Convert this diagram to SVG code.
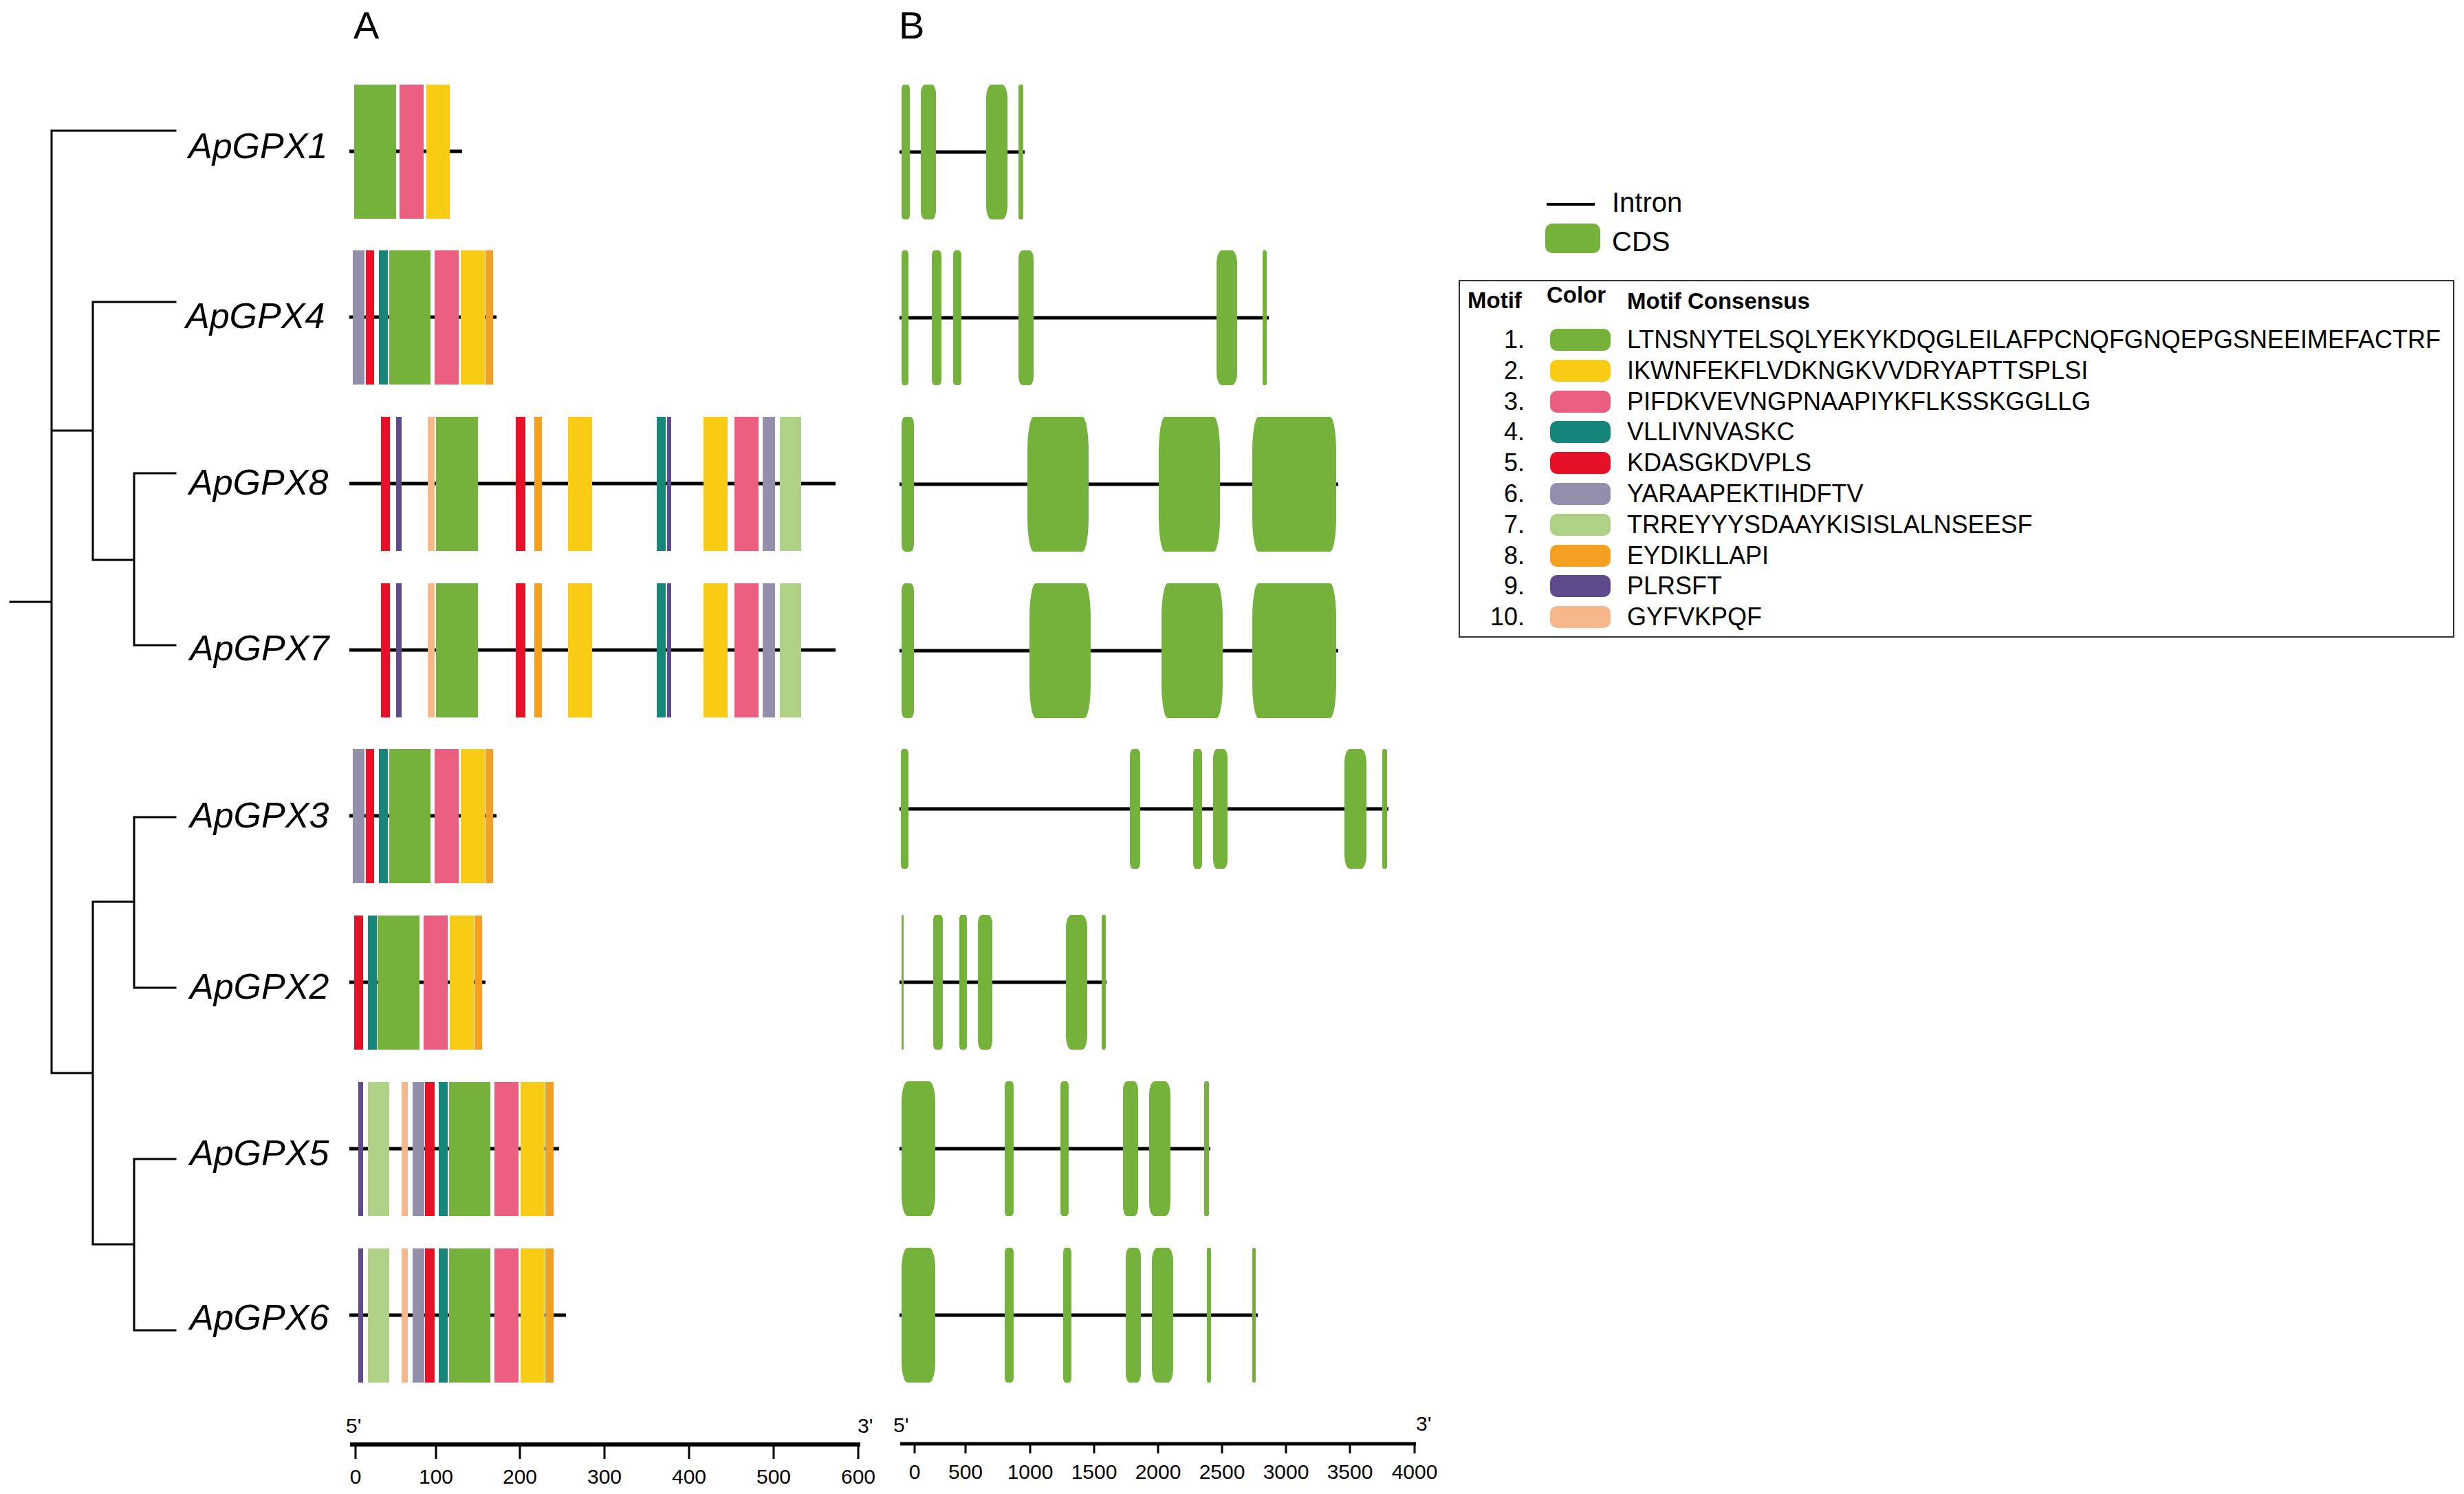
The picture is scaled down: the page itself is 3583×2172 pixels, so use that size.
<svg xmlns="http://www.w3.org/2000/svg" width="3583" height="2172" viewBox="0 0 3583 2172">
<style>
text{font-family:"Liberation Sans",Arial,sans-serif;fill:#000}
.gl{font-size:52px;font-style:italic}
.pl{font-size:56px}
.ax{font-size:30px;text-anchor:middle}
.pr{font-size:30px}
.tr{stroke:#000;stroke-width:3;fill:none;stroke-linecap:square}
.gn{stroke:#000;stroke-width:5}
.m1{fill:#74B23B}.m2{fill:#F8CB14}.m3{fill:#EC5E80}.m4{fill:#16857A}.m5{fill:#E61126}
.m6{fill:#928EAB}.m7{fill:#AFD185}.m8{fill:#F39F21}.m9{fill:#5F4A8B}.m10{fill:#F6B88A}
.ex{fill:#74B23B}
.lg{font-size:36px}
.hd{font-size:33px;font-weight:bold}
.num{font-size:36px;text-anchor:end}
</style>
<rect width="3583" height="2172" fill="#fff"/>
<text class="pl" x="514" y="56">A</text>
<text class="pl" x="1307" y="56">B</text>
<g id="tree">
<path class="tr" d="M15 875H75M75 190V1560M75 190H255M75 626H135M135 439V814M135 439H255M135 814H195M195 688V938M195 688H255M195 938H255M75 1560H135M135 1311V1809M135 1311H195M195 1188V1436M195 1188H255M195 1436H255M135 1809H195M195 1685V1934M195 1685H255M195 1934H255"/>
</g>
<g id="labels">
<text class="gl" x="274" y="230">ApGPX1</text>
<text class="gl" x="270" y="477">ApGPX4</text>
<text class="gl" x="275" y="719">ApGPX8</text>
<text class="gl" x="276" y="960">ApGPX7</text>
<text class="gl" x="276" y="1203">ApGPX3</text>
<text class="gl" x="276" y="1452">ApGPX2</text>
<text class="gl" x="276" y="1694">ApGPX5</text>
<text class="gl" x="276" y="1933">ApGPX6</text>
</g>
<g id="motifs-ApGPX1">
<line class="gn" x1="508" y1="220" x2="672" y2="220"/>
<rect class="m1" x="515" y="123" width="61" height="195"/>
<rect class="m3" x="581" y="123" width="35" height="195"/>
<rect class="m2" x="620" y="123" width="34" height="195"/>
</g>
<g id="motifs-ApGPX4">
<line class="gn" x1="508" y1="461" x2="722" y2="461"/>
<rect class="m6" x="513" y="364" width="17" height="195"/>
<rect class="m5" x="532" y="364" width="12" height="195"/>
<rect class="m4" x="551" y="364" width="13" height="195"/>
<rect class="m1" x="566" y="364" width="60" height="195"/>
<rect class="m3" x="632" y="364" width="35" height="195"/>
<rect class="m2" x="670" y="364" width="35" height="195"/>
<rect class="m8" x="706" y="364" width="11" height="195"/>
</g>
<g id="motifs-ApGPX8">
<line class="gn" x1="508" y1="703" x2="1215" y2="703"/>
<rect class="m5" x="554" y="606" width="13" height="195"/>
<rect class="m9" x="576" y="606" width="8" height="195"/>
<rect class="m10" x="622" y="606" width="10" height="195"/>
<rect class="m1" x="634" y="606" width="61" height="195"/>
<rect class="m5" x="750" y="606" width="14" height="195"/>
<rect class="m8" x="777" y="606" width="11" height="195"/>
<rect class="m2" x="826" y="606" width="35" height="195"/>
<rect class="m4" x="955" y="606" width="13" height="195"/>
<rect class="m9" x="970" y="606" width="6" height="195"/>
<rect class="m2" x="1023" y="606" width="35" height="195"/>
<rect class="m3" x="1068" y="606" width="35" height="195"/>
<rect class="m6" x="1109" y="606" width="18" height="195"/>
<rect class="m7" x="1134" y="606" width="31" height="195"/>
</g>
<g id="motifs-ApGPX7">
<line class="gn" x1="508" y1="945" x2="1215" y2="945"/>
<rect class="m5" x="554" y="848" width="13" height="195"/>
<rect class="m9" x="576" y="848" width="8" height="195"/>
<rect class="m10" x="622" y="848" width="10" height="195"/>
<rect class="m1" x="634" y="848" width="61" height="195"/>
<rect class="m5" x="750" y="848" width="14" height="195"/>
<rect class="m8" x="777" y="848" width="11" height="195"/>
<rect class="m2" x="826" y="848" width="35" height="195"/>
<rect class="m4" x="955" y="848" width="13" height="195"/>
<rect class="m9" x="970" y="848" width="6" height="195"/>
<rect class="m2" x="1023" y="848" width="35" height="195"/>
<rect class="m3" x="1068" y="848" width="35" height="195"/>
<rect class="m6" x="1109" y="848" width="18" height="195"/>
<rect class="m7" x="1134" y="848" width="31" height="195"/>
</g>
<g id="motifs-ApGPX3">
<line class="gn" x1="508" y1="1186" x2="722" y2="1186"/>
<rect class="m6" x="513" y="1089" width="17" height="195"/>
<rect class="m5" x="532" y="1089" width="12" height="195"/>
<rect class="m4" x="551" y="1089" width="13" height="195"/>
<rect class="m1" x="566" y="1089" width="60" height="195"/>
<rect class="m3" x="632" y="1089" width="35" height="195"/>
<rect class="m2" x="670" y="1089" width="35" height="195"/>
<rect class="m8" x="706" y="1089" width="11" height="195"/>
</g>
<g id="motifs-ApGPX2">
<line class="gn" x1="508" y1="1428" x2="706" y2="1428"/>
<rect class="m5" x="515" y="1331" width="13" height="195"/>
<rect class="m4" x="535" y="1331" width="13" height="195"/>
<rect class="m1" x="549" y="1331" width="61" height="195"/>
<rect class="m3" x="616" y="1331" width="35" height="195"/>
<rect class="m2" x="654" y="1331" width="35" height="195"/>
<rect class="m8" x="690" y="1331" width="11" height="195"/>
</g>
<g id="motifs-ApGPX5">
<line class="gn" x1="508" y1="1670" x2="813" y2="1670"/>
<rect class="m9" x="521" y="1573" width="7" height="195"/>
<rect class="m7" x="535" y="1573" width="31" height="195"/>
<rect class="m10" x="584" y="1573" width="9" height="195"/>
<rect class="m6" x="600" y="1573" width="17" height="195"/>
<rect class="m5" x="618" y="1573" width="14" height="195"/>
<rect class="m4" x="638" y="1573" width="13" height="195"/>
<rect class="m1" x="653" y="1573" width="60" height="195"/>
<rect class="m3" x="719" y="1573" width="35" height="195"/>
<rect class="m2" x="757" y="1573" width="35" height="195"/>
<rect class="m8" x="793" y="1573" width="12" height="195"/>
</g>
<g id="motifs-ApGPX6">
<line class="gn" x1="508" y1="1912" x2="823" y2="1912"/>
<rect class="m9" x="521" y="1815" width="7" height="195"/>
<rect class="m7" x="535" y="1815" width="31" height="195"/>
<rect class="m10" x="584" y="1815" width="9" height="195"/>
<rect class="m6" x="600" y="1815" width="17" height="195"/>
<rect class="m5" x="618" y="1815" width="14" height="195"/>
<rect class="m4" x="638" y="1815" width="13" height="195"/>
<rect class="m1" x="653" y="1815" width="60" height="195"/>
<rect class="m3" x="719" y="1815" width="35" height="195"/>
<rect class="m2" x="757" y="1815" width="35" height="195"/>
<rect class="m8" x="793" y="1815" width="12" height="195"/>
</g>
<g id="axis-A">
<line x1="509" y1="2100" x2="1251" y2="2100" stroke="#000" stroke-width="6"/>
<path d="M517 2100V2121M634 2100V2121M756 2100V2121M879 2100V2121M1002 2100V2121M1125 2100V2121M1248 2100V2121" stroke="#000" stroke-width="3"/>
<text class="pr" x="503" y="2083">5'</text>
<text class="pr" x="1247" y="2083">3'</text>
<text class="ax" x="517" y="2157">0</text>
<text class="ax" x="634" y="2157">100</text>
<text class="ax" x="756" y="2157">200</text>
<text class="ax" x="879" y="2157">300</text>
<text class="ax" x="1002" y="2157">400</text>
<text class="ax" x="1125" y="2157">500</text>
<text class="ax" x="1248" y="2157">600</text>
</g>
<g id="gene-ApGPX1">
<line class="gn" x1="1308" y1="221" x2="1490" y2="221"/>
<rect class="ex" x="1311" y="123" width="12" height="196" rx="3.4" ry="7"/>
<rect class="ex" x="1339" y="123" width="22" height="196" rx="6" ry="13"/>
<rect class="ex" x="1434" y="123" width="31" height="196" rx="8" ry="19"/>
<rect class="ex" x="1481" y="123" width="7" height="196" rx="2" ry="4"/>
</g>
<g id="gene-ApGPX4">
<line class="gn" x1="1308" y1="462" x2="1845" y2="462"/>
<rect class="ex" x="1311" y="364" width="10" height="196" rx="3" ry="6"/>
<rect class="ex" x="1355" y="364" width="14" height="196" rx="4" ry="8"/>
<rect class="ex" x="1386" y="364" width="12" height="196" rx="3.4" ry="7"/>
<rect class="ex" x="1481" y="364" width="22" height="196" rx="6" ry="13"/>
<rect class="ex" x="1769" y="364" width="30" height="196" rx="8" ry="18"/>
<rect class="ex" x="1836" y="364" width="6" height="196" rx="2" ry="4"/>
</g>
<g id="gene-ApGPX8">
<line class="gn" x1="1308" y1="704" x2="1946" y2="704"/>
<rect class="ex" x="1311" y="606" width="18" height="196" rx="5" ry="11"/>
<rect class="ex" x="1494" y="606" width="89" height="196" rx="9" ry="50"/>
<rect class="ex" x="1685" y="606" width="89" height="196" rx="9" ry="50"/>
<rect class="ex" x="1821" y="606" width="122" height="196" rx="9" ry="50"/>
</g>
<g id="gene-ApGPX7">
<line class="gn" x1="1308" y1="946" x2="1946" y2="946"/>
<rect class="ex" x="1311" y="848" width="18" height="196" rx="5" ry="11"/>
<rect class="ex" x="1497" y="848" width="89" height="196" rx="9" ry="50"/>
<rect class="ex" x="1689" y="848" width="89" height="196" rx="9" ry="50"/>
<rect class="ex" x="1821" y="848" width="122" height="196" rx="9" ry="50"/>
</g>
<g id="gene-ApGPX3">
<line class="gn" x1="1308" y1="1176" x2="2019" y2="1176"/>
<rect class="ex" x="1310" y="1089" width="11" height="174" rx="3" ry="6"/>
<rect class="ex" x="1643" y="1089" width="15" height="174" rx="4" ry="9"/>
<rect class="ex" x="1735" y="1089" width="13" height="174" rx="3.6" ry="8"/>
<rect class="ex" x="1764" y="1089" width="21" height="174" rx="6" ry="13"/>
<rect class="ex" x="1955" y="1089" width="32" height="174" rx="8" ry="20"/>
<rect class="ex" x="2010" y="1089" width="7" height="174" rx="2" ry="4"/>
</g>
<g id="gene-ApGPX2">
<line class="gn" x1="1308" y1="1428" x2="1609" y2="1428"/>
<rect class="ex" x="1311" y="1330" width="3" height="196" rx="1" ry="2"/>
<rect class="ex" x="1357" y="1330" width="14" height="196" rx="4" ry="8"/>
<rect class="ex" x="1395" y="1330" width="11" height="196" rx="3" ry="6"/>
<rect class="ex" x="1422" y="1330" width="21" height="196" rx="6" ry="13"/>
<rect class="ex" x="1550" y="1330" width="31" height="196" rx="8" ry="19"/>
<rect class="ex" x="1602" y="1330" width="6" height="196" rx="2" ry="4"/>
</g>
<g id="gene-ApGPX5">
<line class="gn" x1="1308" y1="1670" x2="1760" y2="1670"/>
<rect class="ex" x="1311" y="1572" width="49" height="196" rx="9" ry="30"/>
<rect class="ex" x="1461" y="1572" width="13" height="196" rx="3.6" ry="8"/>
<rect class="ex" x="1542" y="1572" width="12" height="196" rx="3.4" ry="7"/>
<rect class="ex" x="1633" y="1572" width="22" height="196" rx="6" ry="13"/>
<rect class="ex" x="1671" y="1572" width="31" height="196" rx="8" ry="19"/>
<rect class="ex" x="1751" y="1572" width="7" height="196" rx="2" ry="4"/>
</g>
<g id="gene-ApGPX6">
<line class="gn" x1="1308" y1="1912" x2="1829" y2="1912"/>
<rect class="ex" x="1311" y="1814" width="49" height="196" rx="9" ry="30"/>
<rect class="ex" x="1461" y="1814" width="13" height="196" rx="3.6" ry="8"/>
<rect class="ex" x="1546" y="1814" width="12" height="196" rx="3.4" ry="7"/>
<rect class="ex" x="1637" y="1814" width="22" height="196" rx="6" ry="13"/>
<rect class="ex" x="1675" y="1814" width="31" height="196" rx="8" ry="19"/>
<rect class="ex" x="1755" y="1814" width="6" height="196" rx="2" ry="4"/>
<rect class="ex" x="1821" y="1814" width="5" height="196" rx="2" ry="3"/>
</g>
<g id="axis-B">
<line x1="1309" y1="2099" x2="2059" y2="2099" stroke="#000" stroke-width="5"/>
<path d="M1330 2099V2113M1404 2099V2113M1498 2099V2113M1591 2099V2113M1684 2099V2113M1777 2099V2113M1870 2099V2113M1963 2099V2113M2057 2099V2113" stroke="#000" stroke-width="3"/>
<text class="pr" x="1299" y="2082">5'</text>
<text class="pr" x="2059" y="2080">3'</text>
<text class="ax" x="1330" y="2150">0</text>
<text class="ax" x="1404" y="2150">500</text>
<text class="ax" x="1498" y="2150">1000</text>
<text class="ax" x="1591" y="2150">1500</text>
<text class="ax" x="1684" y="2150">2000</text>
<text class="ax" x="1777" y="2150">2500</text>
<text class="ax" x="1870" y="2150">3000</text>
<text class="ax" x="1963" y="2150">3500</text>
<text class="ax" x="2057" y="2150">4000</text>
</g>
<g id="legend-structure">
<line x1="2249" y1="297" x2="2319" y2="297" stroke="#000" stroke-width="4"/>
<text x="2344" y="308" style="font-size:40px">Intron</text>
<rect class="ex" x="2247" y="325" width="80" height="43" rx="10"/>
<text x="2344" y="365" style="font-size:40px">CDS</text>
</g>
<g id="legend-motifs">
<rect x="2122" y="408" width="1446" height="518" fill="none" stroke="#333" stroke-width="2"/>
<text class="hd" x="2134" y="448">Motif</text>
<text class="hd" x="2249" y="440">Color</text>
<text class="hd" x="2366" y="449">Motif Consensus</text>
<text class="num" x="2217" y="506">1.</text>
<rect class="m1" x="2254" y="478" width="88" height="32" rx="10"/>
<text class="lg" x="2366" y="506">LTNSNYTELSQLYEKYKDQGLEILAFPCNQFGNQEPGSNEEIMEFACTRF</text>
<text class="num" x="2217" y="551">2.</text>
<rect class="m2" x="2254" y="523" width="88" height="32" rx="10"/>
<text class="lg" x="2366" y="551">IKWNFEKFLVDKNGKVVDRYAPTTSPLSI</text>
<text class="num" x="2217" y="596">3.</text>
<rect class="m3" x="2254" y="568" width="88" height="32" rx="10"/>
<text class="lg" x="2366" y="596">PIFDKVEVNGPNAAPIYKFLKSSKGGLLG</text>
<text class="num" x="2217" y="640">4.</text>
<rect class="m4" x="2254" y="612" width="88" height="32" rx="10"/>
<text class="lg" x="2366" y="640">VLLIVNVASKC</text>
<text class="num" x="2217" y="685">5.</text>
<rect class="m5" x="2254" y="657" width="88" height="32" rx="10"/>
<text class="lg" x="2366" y="685">KDASGKDVPLS</text>
<text class="num" x="2217" y="730">6.</text>
<rect class="m6" x="2254" y="702" width="88" height="32" rx="10"/>
<text class="lg" x="2366" y="730">YARAAPEKTIHDFTV</text>
<text class="num" x="2217" y="775">7.</text>
<rect class="m7" x="2254" y="747" width="88" height="32" rx="10"/>
<text class="lg" x="2366" y="775">TRREYYYSDAAYKISISLALNSEESF</text>
<text class="num" x="2217" y="820">8.</text>
<rect class="m8" x="2254" y="792" width="88" height="32" rx="10"/>
<text class="lg" x="2366" y="820">EYDIKLLAPI</text>
<text class="num" x="2217" y="864">9.</text>
<rect class="m9" x="2254" y="836" width="88" height="32" rx="10"/>
<text class="lg" x="2366" y="864">PLRSFT</text>
<text class="num" x="2217" y="909">10.</text>
<rect class="m10" x="2254" y="881" width="88" height="32" rx="10"/>
<text class="lg" x="2366" y="909">GYFVKPQF</text>
</g>
</svg>
